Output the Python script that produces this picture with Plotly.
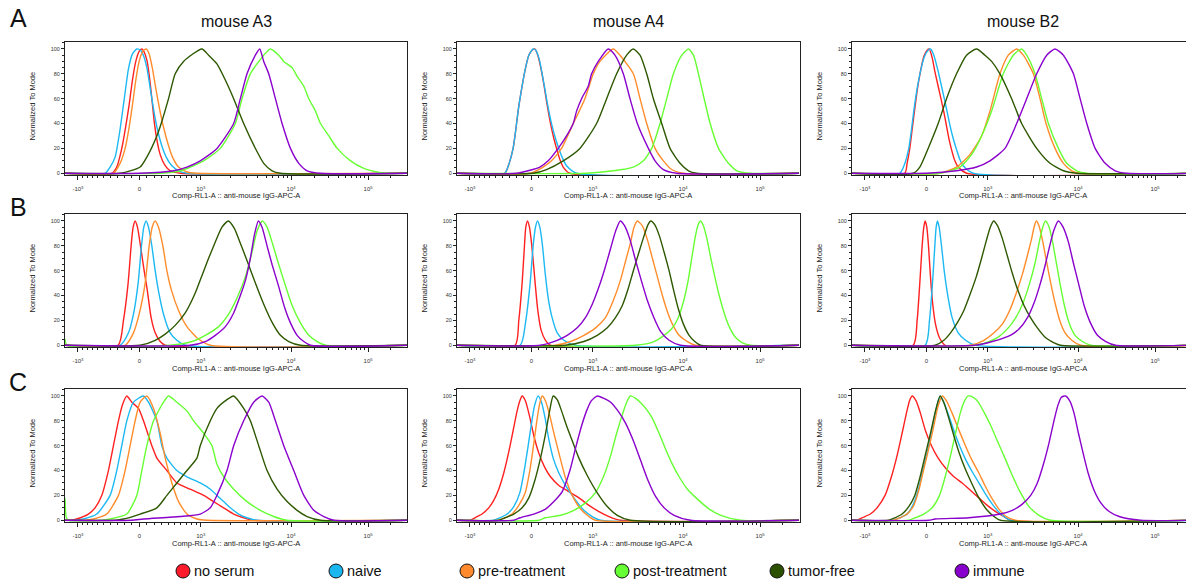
import numpy as np
import plotly.graph_objects as go

# ---------------------------------------------------------------------------
# Histogram outlines: (channel on the 0-1024 logicle display, % of mode)
# ---------------------------------------------------------------------------
# Row A
A_A3_NO_SERUM = [(140, 0), (155, 5), (170, 20), (182, 38), (192, 55), (202, 75), (212, 90), (222, 98), (230, 100), (238, 97), (246, 90), (254, 75), (260, 60), (267, 42), (275, 27), (285, 15), (298, 7), (315, 2), (345, 0)]
A_A3_NAIVE = [(120, 0), (135, 5), (150, 13), (163, 32), (177, 59), (190, 84), (202, 96), (215, 100), (226, 99), (236, 94), (245, 85), (252, 74), (260, 60), (268, 47), (277, 35), (290, 22), (305, 12), (320, 6), (340, 2), (365, 0)]
A_A3_PRE = [(145, 0), (165, 8), (180, 20), (192, 37), (202, 55), (212, 75), (222, 90), (233, 98), (243, 100), (252, 96), (262, 84), (272, 68), (283, 52), (295, 37), (308, 24), (322, 13), (340, 5), (365, 1), (395, 0)]
A_A3_POST = [(285, 0), (345, 2), (415, 10), (465, 20), (510, 40), (530, 60), (555, 80), (595, 95), (615, 100), (640, 95), (655, 90), (680, 85), (695, 78), (715, 70), (730, 60), (750, 50), (765, 40), (790, 30), (815, 20), (855, 10), (895, 4), (945, 0.5), (965, 0)]
A_A3_TUMOR_FREE = [(165, 0), (225, 5), (245, 13), (275, 30), (288, 40), (310, 60), (330, 80), (355, 90), (410, 100), (430, 95), (455, 88), (480, 75), (505, 60), (535, 40), (570, 20), (595, 8), (620, 2), (645, 0)]
A_A3_IMMUNE = [(225, 0), (325, 2), (365, 5), (405, 10), (455, 20), (505, 40), (525, 60), (545, 80), (570, 95), (583, 100), (595, 90), (610, 80), (630, 60), (650, 40), (675, 20), (700, 8), (725, 2), (765, 0)]

A_A4_NO_SERUM = [(143, 0), (155, 7), (168, 20), (176, 35), (183, 50), (193, 67), (203, 82), (215, 95), (225, 99), (233, 100), (243, 94), (253, 82), (261, 70), (268, 58), (280, 40), (290, 28), (298, 20), (308, 11), (318, 5), (338, 0)]
A_A4_NAIVE = [(143, 0), (155, 7), (168, 20), (176, 35), (183, 50), (193, 67), (203, 82), (215, 95), (228, 100), (236, 99), (246, 92), (255, 80), (263, 68), (270, 57), (283, 40), (295, 28), (306, 19), (318, 11), (328, 6), (358, 0)]
A_A4_PRE = [(218, 0), (258, 5), (283, 10), (313, 20), (348, 40), (383, 60), (408, 80), (428, 90), (468, 100), (488, 95), (528, 80), (548, 60), (568, 40), (593, 20), (618, 10), (643, 3), (678, 0)]
A_A4_POST = [(388, 0), (468, 2), (528, 5), (558, 10), (583, 20), (608, 40), (628, 60), (648, 80), (673, 95), (693, 100), (708, 95), (723, 80), (740, 60), (758, 40), (783, 20), (813, 8), (838, 2), (878, 0)]
A_A4_TUMOR_FREE = [(228, 0), (268, 3), (318, 10), (368, 20), (418, 40), (448, 60), (478, 80), (508, 95), (528, 100), (548, 95), (568, 80), (588, 60), (613, 40), (638, 20), (668, 8), (693, 2), (718, 0)]
A_A4_IMMUNE = [(178, 0), (248, 5), (273, 10), (303, 20), (328, 30), (348, 40), (358, 50), (373, 60), (393, 70), (403, 80), (423, 90), (453, 100), (473, 95), (498, 80), (518, 60), (540, 40), (573, 20), (593, 10), (618, 3), (658, 0)]

A_B2_NO_SERUM = [(158, 0), (165, 8), (173, 20), (180, 35), (188, 52), (196, 68), (205, 82), (215, 94), (225, 99), (231, 100), (240, 93), (248, 82), (258, 70), (268, 58), (276, 48), (283, 38), (290, 28), (298, 19), (308, 10), (318, 5), (343, 0)]
A_B2_NAIVE = [(143, 0), (157, 7), (170, 20), (178, 35), (186, 52), (195, 68), (205, 82), (217, 94), (228, 99), (235, 100), (245, 95), (258, 82), (268, 70), (278, 58), (286, 48), (293, 39), (303, 28), (313, 19), (323, 11), (333, 6), (363, 0)]
A_B2_PRE = [(263, 0), (313, 5), (353, 15), (388, 30), (413, 50), (443, 80), (468, 95), (493, 100), (513, 95), (543, 80), (563, 60), (581, 40), (608, 20), (633, 8), (658, 2), (683, 0)]
A_B2_POST = [(263, 0), (323, 5), (358, 15), (388, 30), (418, 50), (453, 80), (483, 95), (508, 100), (523, 95), (548, 80), (568, 60), (588, 40), (618, 20), (643, 8), (673, 2), (703, 0)]
A_B2_TUMOR_FREE = [(183, 0), (203, 5), (228, 20), (258, 40), (283, 60), (313, 80), (343, 95), (373, 100), (398, 95), (418, 90), (443, 80), (478, 60), (508, 40), (553, 20), (593, 8), (633, 2), (673, 0)]
A_B2_IMMUNE = [(223, 0), (313, 2), (373, 5), (413, 10), (458, 20), (493, 40), (523, 60), (553, 80), (583, 95), (608, 100), (633, 95), (663, 80), (683, 60), (703, 40), (728, 20), (758, 8), (788, 2), (823, 0)]

# Row B
B_A3_NO_SERUM = [(159, 0), (175, 20), (189, 50), (198, 80), (204, 95), (210, 100), (217, 95), (226, 80), (237, 60), (246, 45), (258, 22), (270, 10), (285, 3), (300, 0)]
B_A3_NAIVE = [(165, 0), (190, 10), (205, 25), (219, 50), (229, 80), (236, 95), (243, 100), (250, 95), (260, 80), (270, 60), (279, 45), (295, 25), (315, 10), (335, 4), (360, 0)]
B_A3_PRE = [(180, 0), (205, 10), (222, 25), (240, 50), (252, 80), (261, 95), (270, 100), (280, 95), (293, 80), (305, 60), (318, 45), (340, 28), (365, 15), (400, 5), (435, 0)]
B_A3_POST = [(0, 5), (6, 0), (315, 0), (380, 3), (420, 8), (460, 15), (490, 25), (515, 38), (540, 55), (560, 75), (575, 92), (591, 100), (605, 95), (621, 82), (640, 65), (660, 48), (680, 32), (705, 18), (730, 8), (755, 3), (780, 0)]
B_A3_TUMOR_FREE = [(225, 0), (270, 4), (300, 9), (330, 16), (360, 26), (390, 42), (410, 56), (430, 70), (450, 83), (470, 95), (489, 100), (507, 94), (525, 82), (548, 66), (570, 50), (595, 33), (621, 18), (645, 8), (670, 3), (705, 0)]
B_A3_IMMUNE = [(375, 0), (420, 3), (450, 8), (480, 15), (505, 26), (525, 40), (540, 52), (555, 70), (568, 90), (579, 100), (590, 95), (605, 80), (620, 65), (639, 48), (658, 30), (675, 18), (695, 8), (715, 3), (735, 0)]

B_A4_NO_SERUM = [(174, 0), (185, 20), (195, 50), (202, 80), (206, 95), (211, 100), (217, 95), (224, 80), (234, 50), (242, 28), (252, 12), (265, 4), (279, 0)]
B_A4_NAIVE = [(189, 0), (205, 18), (219, 50), (228, 80), (235, 95), (241, 100), (248, 95), (256, 80), (264, 58), (273, 38), (285, 22), (300, 10), (320, 4), (354, 0)]
B_A4_PRE = [(294, 0), (340, 3), (380, 8), (415, 14), (444, 22), (468, 36), (489, 52), (505, 68), (519, 82), (530, 95), (540, 100), (555, 96), (570, 85), (585, 70), (600, 55), (615, 40), (630, 27), (645, 17), (665, 8), (690, 3), (714, 0)]
B_A4_POST = [(534, 0), (590, 3), (620, 8), (645, 14), (662, 22), (678, 35), (692, 52), (704, 72), (714, 88), (722, 97), (729, 100), (738, 96), (748, 86), (760, 70), (772, 55), (785, 40), (800, 26), (815, 15), (835, 6), (855, 2), (879, 0)]
B_A4_TUMOR_FREE = [(324, 0), (380, 3), (420, 8), (450, 14), (474, 22), (495, 32), (512, 45), (528, 60), (545, 75), (560, 88), (572, 97), (580, 100), (592, 97), (606, 88), (620, 75), (635, 60), (648, 45), (662, 30), (678, 17), (695, 8), (712, 3), (729, 0)]
B_A4_IMMUNE = [(249, 0), (300, 4), (330, 8), (360, 14), (384, 22), (405, 33), (425, 47), (443, 62), (460, 78), (475, 92), (489, 100), (502, 96), (518, 85), (535, 68), (552, 52), (570, 36), (590, 22), (610, 11), (635, 4), (669, 0)]

B_B2_NO_SERUM = [(183, 0), (195, 20), (203, 50), (210, 80), (215, 95), (219, 100), (224, 95), (229, 80), (235, 55), (241, 35), (250, 17), (262, 6), (279, 0)]
B_B2_NAIVE = [(219, 0), (232, 20), (241, 50), (248, 80), (252, 95), (256, 100), (261, 95), (268, 80), (277, 58), (288, 38), (300, 22), (318, 10), (340, 4), (369, 0)]
B_B2_PRE = [(354, 0), (395, 4), (425, 10), (450, 17), (472, 28), (492, 42), (510, 57), (525, 72), (538, 86), (546, 96), (552, 100), (560, 96), (570, 85), (582, 68), (595, 50), (608, 34), (622, 20), (638, 10), (658, 4), (684, 0)]
B_B2_POST = [(369, 0), (410, 3), (440, 7), (468, 14), (490, 22), (512, 34), (532, 50), (548, 66), (560, 82), (570, 94), (579, 100), (589, 96), (600, 84), (612, 66), (624, 48), (636, 32), (650, 18), (668, 8), (690, 3), (714, 0)]
B_B2_TUMOR_FREE = [(249, 0), (275, 4), (295, 10), (315, 18), (335, 28), (355, 42), (372, 55), (388, 70), (402, 84), (414, 95), (424, 100), (436, 96), (450, 86), (465, 72), (480, 58), (497, 44), (515, 32), (535, 22), (555, 14), (580, 6), (605, 2), (624, 0)]
B_B2_IMMUNE = [(369, 0), (420, 3), (474, 8), (500, 13), (525, 22), (545, 34), (562, 48), (578, 64), (592, 80), (605, 93), (618, 100), (632, 95), (648, 83), (663, 66), (678, 50), (695, 32), (714, 18), (735, 8), (760, 3), (789, 0)]

# Row C
C_A3_NO_SERUM = [(20, 0), (35, 1), (70, 5), (90, 10), (110, 20), (130, 40), (145, 60), (160, 80), (172, 93), (185, 100), (200, 95), (220, 90), (235, 80), (260, 60), (275, 50), (305, 40), (335, 30), (375, 25), (415, 20), (445, 15), (475, 10), (505, 5), (535, 2), (565, 0)]
C_A3_NAIVE = [(30, 0), (55, 1), (95, 5), (135, 20), (155, 40), (170, 60), (185, 80), (205, 95), (235, 100), (250, 95), (275, 80), (290, 60), (305, 50), (335, 40), (365, 35), (405, 30), (435, 25), (455, 20), (475, 15), (495, 10), (520, 5), (545, 2), (575, 0)]
C_A3_PRE = [(60, 0), (85, 1), (125, 5), (160, 20), (180, 40), (195, 60), (210, 80), (225, 95), (245, 100), (265, 90), (285, 70), (300, 50), (320, 30), (340, 15), (365, 5), (395, 1), (425, 0)]
C_A3_POST = [(0, 18), (4, 2), (10, 0), (110, 0), (135, 1), (185, 5), (215, 20), (230, 40), (245, 60), (265, 80), (295, 95), (310, 100), (335, 95), (365, 88), (385, 80), (415, 70), (440, 60), (455, 45), (475, 35), (505, 25), (545, 15), (585, 8), (625, 3), (665, 0)]
C_A3_TUMOR_FREE = [(150, 0), (175, 1), (225, 5), (275, 10), (305, 20), (335, 30), (365, 40), (395, 50), (405, 60), (435, 80), (455, 90), (485, 97), (505, 100), (535, 90), (555, 80), (580, 60), (605, 40), (635, 25), (665, 15), (695, 8), (725, 3), (765, 0)]
C_A3_IMMUNE = [(200, 0), (235, 1), (345, 3), (405, 5), (435, 10), (455, 20), (485, 40), (505, 60), (535, 80), (565, 95), (590, 100), (610, 95), (630, 80), (655, 60), (685, 40), (715, 20), (745, 8), (775, 3), (805, 0)]

C_A4_NO_SERUM = [(40, 0), (54, 2), (75, 5), (95, 10), (110, 16), (125, 25), (140, 38), (155, 55), (168, 72), (180, 88), (188, 96), (195, 100), (205, 96), (217, 84), (230, 68), (245, 54), (262, 43), (280, 35), (305, 28), (335, 23), (365, 18), (395, 12), (425, 7), (455, 3), (489, 0)]
C_A4_NAIVE = [(110, 0), (129, 2), (150, 5), (170, 11), (188, 22), (200, 38), (212, 58), (222, 76), (232, 92), (243, 100), (253, 95), (264, 82), (275, 65), (288, 50), (305, 38), (325, 28), (350, 18), (380, 8), (405, 3), (429, 0)]
C_A4_PRE = [(125, 0), (144, 2), (165, 5), (185, 12), (204, 22), (218, 40), (228, 58), (238, 78), (247, 93), (255, 100), (265, 96), (278, 84), (292, 68), (309, 50), (325, 34), (345, 20), (370, 9), (395, 3), (414, 0)]
C_A4_POST = [(245, 0), (264, 2), (310, 4), (350, 8), (385, 14), (414, 22), (440, 36), (460, 52), (478, 70), (495, 85), (508, 95), (519, 100), (535, 98), (552, 94), (568, 89), (585, 82), (605, 70), (625, 57), (645, 45), (665, 35), (690, 25), (720, 17), (755, 9), (790, 4), (849, 0)]
C_A4_TUMOR_FREE = [(125, 0), (144, 2), (170, 5), (195, 10), (215, 18), (233, 32), (250, 50), (264, 68), (276, 86), (288, 100), (300, 97), (313, 88), (328, 76), (345, 64), (365, 50), (390, 36), (420, 22), (450, 11), (480, 4), (519, 0)]
C_A4_IMMUNE = [(170, 0), (189, 2), (230, 5), (265, 9), (290, 15), (315, 23), (338, 40), (355, 58), (372, 75), (388, 88), (402, 96), (420, 100), (440, 98), (460, 95), (482, 88), (505, 78), (528, 64), (550, 48), (572, 32), (595, 19), (620, 10), (650, 4), (699, 0)]

C_B2_NO_SERUM = [(15, 0), (30, 2), (55, 5), (75, 10), (99, 20), (118, 35), (135, 52), (150, 70), (162, 85), (172, 96), (180, 100), (192, 96), (205, 86), (220, 72), (238, 60), (258, 50), (280, 42), (305, 35), (330, 30), (355, 24), (380, 18), (405, 12), (430, 7), (455, 3), (474, 0)]
C_B2_NAIVE = [(125, 0), (144, 2), (165, 5), (182, 12), (198, 24), (212, 40), (228, 58), (242, 76), (254, 92), (264, 100), (275, 95), (290, 84), (305, 72), (322, 60), (340, 49), (360, 39), (380, 30), (400, 21), (420, 13), (442, 6), (474, 0)]
C_B2_PRE = [(125, 0), (144, 2), (165, 5), (185, 12), (200, 24), (214, 40), (230, 58), (245, 76), (258, 92), (270, 100), (283, 96), (300, 86), (318, 74), (338, 61), (358, 49), (378, 39), (398, 28), (418, 18), (440, 9), (462, 3), (489, 0)]
C_B2_POST = [(170, 0), (189, 2), (215, 5), (240, 10), (262, 20), (280, 36), (295, 52), (310, 70), (324, 86), (337, 96), (348, 100), (362, 99), (378, 95), (395, 87), (414, 77), (435, 64), (458, 50), (480, 36), (505, 22), (530, 11), (560, 4), (594, 0)]
C_B2_TUMOR_FREE = [(110, 0), (129, 2), (150, 5), (170, 11), (188, 20), (204, 35), (219, 52), (235, 70), (250, 88), (264, 100), (276, 94), (290, 82), (305, 68), (320, 55), (338, 42), (358, 30), (380, 18), (405, 8), (425, 3), (444, 0)]
C_B2_IMMUNE = [(230, 0), (249, 1), (350, 2), (444, 5), (480, 8), (510, 13), (535, 20), (555, 30), (572, 44), (588, 60), (603, 78), (616, 92), (627, 99), (639, 100), (652, 96), (665, 86), (678, 70), (692, 54), (707, 38), (725, 24), (745, 14), (770, 7), (800, 3), (864, 0)]

ROWS = ["A", "B", "C"]
MICE = ["mouse A3", "mouse A4", "mouse B2"]
GROUPS = ["no serum", "naive", "pre-treatment", "post-treatment", "tumor-free", "immune"]
LINE_COLORS = ["#ff2020", "#1cb8f2", "#ff8c2a", "#66ff33", "#2d5800", "#8a00cc"]
LEGEND_FILLS = ["#ff1a2c", "#1ab6f0", "#ff8a2e", "#66ff33", "#2a5000", "#8800cc"]

PANELS = {
    ("A", 0): [A_A3_NO_SERUM, A_A3_NAIVE, A_A3_PRE, A_A3_POST, A_A3_TUMOR_FREE, A_A3_IMMUNE],
    ("A", 1): [A_A4_NO_SERUM, A_A4_NAIVE, A_A4_PRE, A_A4_POST, A_A4_TUMOR_FREE, A_A4_IMMUNE],
    ("A", 2): [A_B2_NO_SERUM, A_B2_NAIVE, A_B2_PRE, A_B2_POST, A_B2_TUMOR_FREE, A_B2_IMMUNE],
    ("B", 0): [B_A3_NO_SERUM, B_A3_NAIVE, B_A3_PRE, B_A3_POST, B_A3_TUMOR_FREE, B_A3_IMMUNE],
    ("B", 1): [B_A4_NO_SERUM, B_A4_NAIVE, B_A4_PRE, B_A4_POST, B_A4_TUMOR_FREE, B_A4_IMMUNE],
    ("B", 2): [B_B2_NO_SERUM, B_B2_NAIVE, B_B2_PRE, B_B2_POST, B_B2_TUMOR_FREE, B_B2_IMMUNE],
    ("C", 0): [C_A3_NO_SERUM, C_A3_NAIVE, C_A3_PRE, C_A3_POST, C_A3_TUMOR_FREE, C_A3_IMMUNE],
    ("C", 1): [C_A4_NO_SERUM, C_A4_NAIVE, C_A4_PRE, C_A4_POST, C_A4_TUMOR_FREE, C_A4_IMMUNE],
    ("C", 2): [C_B2_NO_SERUM, C_B2_NAIVE, C_B2_PRE, C_B2_POST, C_B2_TUMOR_FREE, C_B2_IMMUNE],
}
# drawing order (back to front)
DRAW_ORDER = [0, 1, 2, 3, 4, 5]

# ---------------------------------------------------------------------------
# Logicle (biexponential) display scale: T = 262144, M = 4.5, W = 1.0
# ---------------------------------------------------------------------------
T_MAX, M_DEC, W_DEC = 262144.0, 4.5, 1.0
N_CHANNELS, DISPLAY_DECADES = 1024.0, 4.6


def _p_from_w(w):
    lo, hi = 1.0001, 100.0
    for _ in range(200):
        mid = 0.5 * (lo + hi)
        if 2 * mid * np.log10(mid) / (mid + 1) < w:
            lo = mid
        else:
            hi = mid
    return 0.5 * (lo + hi)


P_LOG = _p_from_w(W_DEC)


def _logicle_value(x):
    x = np.asarray(x, float)
    d = np.abs(x - W_DEC)
    v = T_MAX * 10 ** (-(M_DEC - W_DEC)) * (10 ** d - P_LOG ** 2 * 10 ** (-d / P_LOG) + P_LOG ** 2 - 1)
    return np.sign(x - W_DEC) * v


_GRID = np.linspace(-1.0, 5.0, 60001)
_GRID_VALS = _logicle_value(_GRID)


def channel(v):
    """Fluorescence value -> display channel (0..1024)."""
    return np.interp(np.asarray(v, float), _GRID_VALS, _GRID) * N_CHANNELS / DISPLAY_DECADES


MAJOR_VALUES = [-1000, 0, 1000, 10000, 100000]
MAJOR_TEXT = ["-10<sup>3</sup>", "0", "10<sup>3</sup>", "10<sup>4</sup>", "10<sup>5</sup>"]
MINOR_VALUES = ([-k * 100 for k in range(1, 10)] + [k * 100 for k in range(1, 10)]
                + [k * 1000 for k in range(2, 10)] + [k * 10000 for k in range(2, 10)] + [200000])

# ---------------------------------------------------------------------------
# Layout geometry (pixels)
# ---------------------------------------------------------------------------
FIG_W, FIG_H = 1186, 579
COL_LEFT = [65, 457, 852]
COL_RIGHT = [407, 800, 1186]
ROW_TOP = [42, 214, 389]
ROW_BOTTOM = [175, 347, 522]
PX_PER_CH = 342.0 / 1024.0
Y_RANGE = [-1.4, 105.6]

FONT = "Liberation Sans, Arial, Helvetica, sans-serif"


def px_x(px):
    return px / FIG_W


def px_y(py):
    return 1 - py / FIG_H


fig = go.Figure()
layout = dict(
    width=FIG_W, height=FIG_H,
    margin=dict(l=0, r=0, t=0, b=0),
    paper_bgcolor="white", plot_bgcolor="white",
    showlegend=False,
    font=dict(family=FONT, color="#222"),
)
annotations = []
shapes = []

for r, row in enumerate(ROWS):
    for c in range(3):
        k = r * 3 + c + 1
        xa = "x" if k == 1 else f"x{k}"
        ya = "y" if k == 1 else f"y{k}"
        curves = PANELS[(row, c)]
        for i in DRAW_ORDER:
            pts = list(curves[i])
            if pts[0][0] > 0:
                pts = [(0, 0)] + pts
            if pts[-1][0] < N_CHANNELS:
                pts = pts + [(N_CHANNELS, 0)]
            xs = [p[0] for p in pts]
            ys = [p[1] for p in pts]
            fig.add_trace(go.Scatter(
                x=xs, y=ys, mode="lines", xaxis=xa, yaxis=ya,
                line=dict(color=LINE_COLORS[i], width=1.4, shape="spline", smoothing=0.6),
                name=GROUPS[i], hoverinfo="skip",
            ))
        width_px = COL_RIGHT[c] - COL_LEFT[c]
        x_hi = width_px / PX_PER_CH
        layout["xaxis" if k == 1 else f"xaxis{k}"] = dict(
            domain=[px_x(COL_LEFT[c]), px_x(COL_RIGHT[c])],
            anchor=ya, range=[0, x_hi],
            tickmode="array", tickvals=list(channel(MAJOR_VALUES)), ticktext=MAJOR_TEXT,
            ticks="outside", ticklen=4, tickwidth=1, tickcolor="#222",
            minor=dict(tickmode="array", tickvals=list(channel(MINOR_VALUES)),
                       ticks="outside", ticklen=2, tickwidth=1, tickcolor="#222"),
            tickfont=dict(size=6, color="#333", family=FONT),
            ticklabelstandoff=4,
            showline=True, linecolor="#222", linewidth=1, mirror=True,
            showgrid=False, zeroline=False, fixedrange=True,
        )
        layout["yaxis" if k == 1 else f"yaxis{k}"] = dict(
            domain=[px_y(ROW_BOTTOM[r]), px_y(ROW_TOP[r])],
            anchor=xa, range=Y_RANGE,
            tickmode="array", tickvals=[0, 20, 40, 60, 80, 100],
            ticks="outside", ticklen=3, tickwidth=1, tickcolor="#222",
            minor=dict(dtick=5, tick0=0, ticks="outside", ticklen=2, tickwidth=1, tickcolor="#222"),
            tickfont=dict(size=5.5, color="#333", family=FONT),
            showline=True, linecolor="#222", linewidth=1, mirror=True,
            showgrid=False, zeroline=False, fixedrange=True,
        )
        # axis titles
        annotations.append(dict(
            text="Comp-RL1-A :: anti-mouse IgG-APC-A", xref="paper", yref="paper",
            x=px_x(COL_LEFT[c] + 171), y=px_y(ROW_BOTTOM[r] + 21),
            showarrow=False, font=dict(size=7.5, color="#222", family=FONT),
            xanchor="center", yanchor="middle",
        ))
        annotations.append(dict(
            text="Normalized To Mode", xref="paper", yref="paper",
            x=px_x(COL_LEFT[c] - 33), y=px_y((ROW_TOP[r] + ROW_BOTTOM[r]) / 2 - 2),
            textangle=-90, showarrow=False, font=dict(size=7.5, color="#222", family=FONT),
            xanchor="center", yanchor="middle",
        ))

# column headings
for c, mouse in enumerate(MICE):
    annotations.append(dict(
        text=mouse, xref="paper", yref="paper",
        x=px_x(COL_LEFT[c] + 171), y=px_y(22), showarrow=False,
        font=dict(size=16, color="#111", family=FONT), xanchor="center", yanchor="middle",
    ))

# row letters
for row, py in zip(ROWS, [18, 207, 382]):
    annotations.append(dict(
        text=row, xref="paper", yref="paper", x=px_x(18), y=px_y(py), showarrow=False,
        font=dict(size=25, color="#111", family=FONT), xanchor="center", yanchor="middle",
    ))

# legend
LEGEND_X = [183, 336, 467, 622, 777, 962]
LEGEND_Y = 571
R = 7
for i, name in enumerate(GROUPS):
    cx = LEGEND_X[i]
    shapes.append(dict(
        type="circle", xref="paper", yref="paper",
        x0=px_x(cx - R), x1=px_x(cx + R), y0=px_y(LEGEND_Y + R), y1=px_y(LEGEND_Y - R),
        fillcolor=LEGEND_FILLS[i], line=dict(color="#111", width=1),
    ))
    annotations.append(dict(
        text=name, xref="paper", yref="paper", x=px_x(cx + 9), y=px_y(LEGEND_Y),
        showarrow=False, xanchor="left", yanchor="middle",
        font=dict(size=14.5, color="#111", family=FONT),
    ))

layout["annotations"] = annotations
layout["shapes"] = shapes
fig.update_layout(**layout)
fig.write_html("out.html")
